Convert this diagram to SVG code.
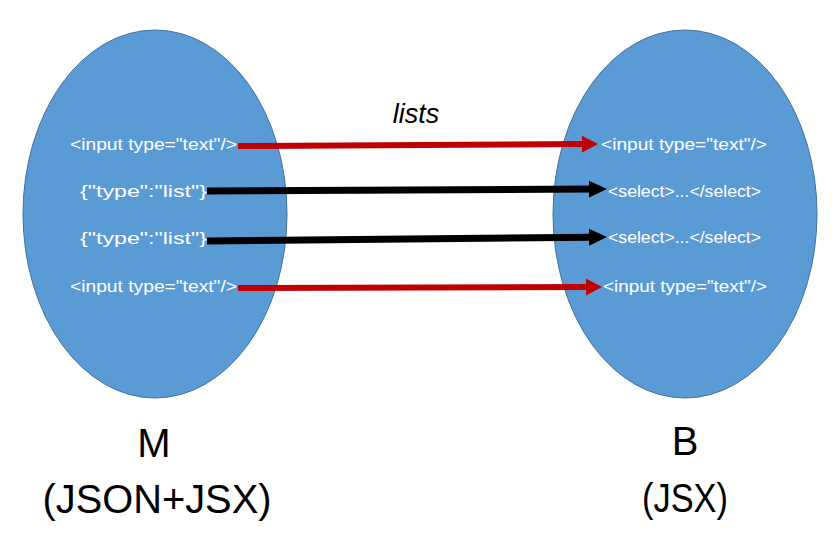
<svg xmlns="http://www.w3.org/2000/svg" width="838" height="545" viewBox="0 0 838 545">
<style>
.ell{fill:#5B9BD5;stroke:#41719C;stroke-width:1}
.wt{font-family:"Liberation Sans",Arial,sans-serif;font-size:17px;fill:#FFFFFF}
.big{font-family:"Liberation Sans",Arial,sans-serif;font-size:40px;fill:#000000;text-anchor:middle}
.lbl{font-family:"Liberation Sans",Arial,sans-serif;font-size:27px;font-style:italic;fill:#000000;text-anchor:middle}
.red{stroke:#C00000;stroke-width:6;fill:none}
.blk{stroke:#000000;stroke-width:7;fill:none}
</style>
<defs>
<marker id="hr" markerUnits="userSpaceOnUse" markerWidth="17" markerHeight="18" refX="2" refY="8.5" orient="auto" viewBox="0 0 17 17">
<path d="M0,0 L16,8.5 L0,17 Z" fill="#C00000"/>
</marker>
<marker id="hb" markerUnits="userSpaceOnUse" markerWidth="19" markerHeight="18" refX="2" refY="8.5" orient="auto" viewBox="0 0 19 17">
<path d="M0,0 L18,8.5 L0,17 Z" fill="#000000"/>
</marker>
</defs>
<g id="nodeM">
<ellipse class="ell" cx="155" cy="214" rx="132" ry="184"/>
<text class="wt" x="70" y="150" textLength="167" lengthAdjust="spacingAndGlyphs">&lt;input type="text"/&gt;</text>
<text class="wt" x="80" y="197" textLength="127" lengthAdjust="spacingAndGlyphs">{"type":"list"}</text>
<text class="wt" x="80" y="244" textLength="127" lengthAdjust="spacingAndGlyphs">{"type":"list"}</text>
<text class="wt" x="70" y="292" textLength="167" lengthAdjust="spacingAndGlyphs">&lt;input type="text"/&gt;</text>
<text class="big" x="154" y="457">M</text>
<text class="big" x="157" y="513" textLength="229" lengthAdjust="spacingAndGlyphs">(JSON+JSX)</text>
</g>
<g id="nodeB">
<ellipse class="ell" cx="685" cy="214" rx="132" ry="184"/>
<text class="wt" x="601" y="150" textLength="166" lengthAdjust="spacingAndGlyphs">&lt;input type="text"/&gt;</text>
<text class="wt" x="608" y="197" textLength="153" lengthAdjust="spacingAndGlyphs">&lt;select&gt;...&lt;/select&gt;</text>
<text class="wt" x="608" y="243" textLength="153" lengthAdjust="spacingAndGlyphs">&lt;select&gt;...&lt;/select&gt;</text>
<text class="wt" x="603" y="292" textLength="164" lengthAdjust="spacingAndGlyphs">&lt;input type="text"/&gt;</text>
<text class="big" x="685" y="455">B</text>
<text class="big" x="685" y="512" textLength="86" lengthAdjust="spacingAndGlyphs">(JSX)</text>
</g>
<g id="connectors">
<line class="red" x1="238" y1="146" x2="584" y2="144.1" marker-end="url(#hr)"/>
<line class="blk" x1="207" y1="191" x2="591" y2="189.1" marker-end="url(#hb)"/>
<line class="blk" x1="207" y1="241" x2="591" y2="237.2" marker-end="url(#hb)"/>
<line class="red" x1="238" y1="288" x2="588" y2="287" marker-end="url(#hr)"/>
<text class="lbl" x="416" y="123">lists</text>
</g>
</svg>
